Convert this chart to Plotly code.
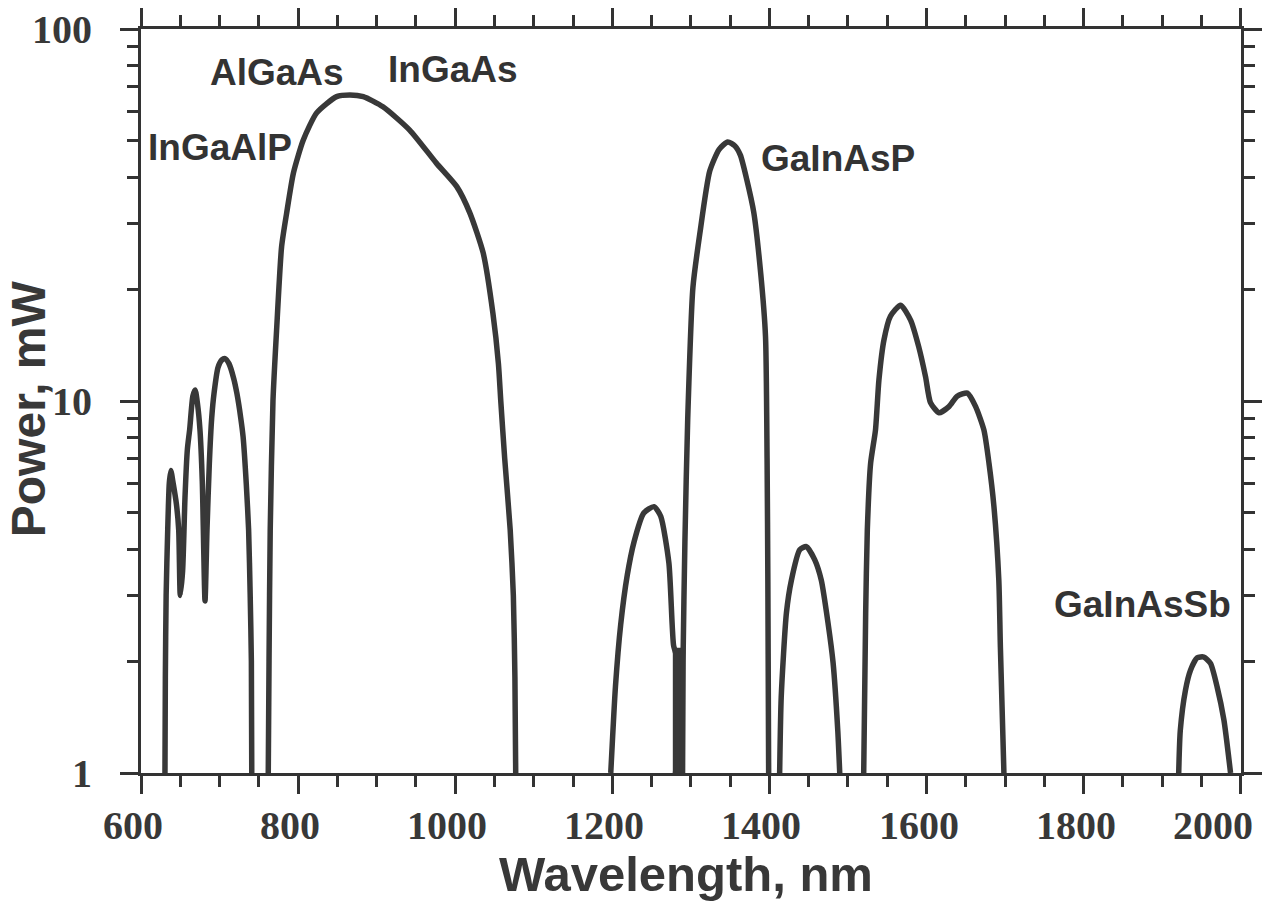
import plotly.graph_objects as go
import math

# ---- data (wavelength nm, power mW) ----
wl_red = [630.5, 631, 632, 634, 636, 638, 641, 645, 648, 650, 653, 656, 659, 662, 666, 669,
          672, 675, 678, 681.5, 684, 687, 690, 693, 698, 703, 707, 712, 718, 722, 727, 730,
          734, 737, 739, 740.5, 741]
p_red = [1.0, 1.8, 3.0, 4.5, 6.0, 6.5, 6.0, 5.3, 4.5, 3.0, 3.5, 5.5, 7.4, 8.4, 10.3, 10.7,
         9.8, 8.4, 6.1, 2.9, 4.5, 6.8, 9.0, 10.5, 12.3, 12.9, 13.0, 12.6, 11.5, 10.5, 9.0, 8.0,
         6.0, 4.5, 3.0, 2.0, 1.0]

wl_nir = [762, 763, 764.5, 768, 772.6, 779, 785.4, 794, 806.6, 823.6, 849, 866, 883, 908, 942,
          976, 1002, 1018.7, 1035.6, 1048, 1055, 1058, 1063, 1070, 1074, 1076, 1077]
p_nir = [1.0, 2.0, 4.5, 10, 15.5, 26, 32, 41, 50.3, 59.5, 65.8, 66.5, 65.8, 61.8, 53.5,
         43.6, 37.7, 32, 25, 17.2, 12.6, 10, 7, 4.5, 3, 1.8, 1.0]

wl_1250 = [1198, 1204, 1210.6, 1219, 1227.6, 1240, 1253, 1261.6, 1272, 1278, 1282, 1283.5, 1284]
p_1250 = [1.0, 1.71, 2.5, 3.4, 4.18, 5.0, 5.2, 4.9, 3.67, 2.2, 2.05, 1.5, 1.0]

wl_dip = [1277, 1291, 1291, 1277]
p_dip = [1.0, 1.0, 2.15, 2.15]

wl_1350 = [1289, 1290, 1292.4, 1296, 1302.6, 1311.5, 1324, 1336, 1347, 1356, 1363, 1371, 1380,
           1389, 1395, 1397, 1398, 1399]
p_1350 = [1.0, 2.0, 4.18, 9.0, 20.2, 28.3, 41.5, 47.5, 49.7, 48.5, 45.8, 39.5, 32.2,
          21.9, 14.9, 7.0, 3.24, 1.0]

wl_1450 = [1413, 1415, 1421.6, 1428, 1438.6, 1447, 1457.7, 1466, 1474.6, 1481, 1487, 1489.5]
p_1450 = [1.0, 1.6, 2.69, 3.3, 3.98, 4.06, 3.74, 3.3, 2.53, 1.98, 1.3, 1.0]

wl_1600 = [1520, 1522.5, 1524.6, 1528.8, 1535, 1539.4, 1545.8, 1554, 1567, 1579.7, 1590,
           1598.8, 1605, 1615.8, 1628.5, 1639, 1652, 1662.5, 1673, 1679.5, 1685.8, 1692,
           1694, 1698.5]
p_1600 = [1.0, 2.69, 4.5, 6.8, 8.36, 11.4, 14.6, 16.9, 18.1, 16.5, 14.0,
          11.6, 9.9, 9.3, 9.66, 10.3, 10.5, 9.66, 8.36, 6.8, 5.2, 3.3,
          2.18, 1.0]

wl_sb = [1921, 1923, 1929.6, 1936, 1944.5, 1953, 1961.5, 1970, 1978.5, 1987]
p_sb = [1.0, 1.3, 1.67, 1.89, 2.04, 2.05, 1.97, 1.7, 1.39, 1.0]

labels = ["AlGaAs", "InGaAs", "InGaAlP", "GaInAsP", "GaInAsSb"]
label_wl = [773, 997, 700.5, 1487, 1875]
label_p = [76.5, 77.6, 47.9, 45.0, 2.83]

x_ticks = [600, 800, 1000, 1200, 1400, 1600, 1800, 2000]
y_ticks = [1, 10, 100]
y_ticktext = ["1\u00a0\u00a0", "10\u00a0\u00a0", "100\u00a0\u00a0"]

LINE = "#383838"
AX = "#333333"

segments = [(wl_red, p_red), (wl_nir, p_nir), (wl_1250, p_1250), (wl_1350, p_1350),
            (wl_1450, p_1450), (wl_1600, p_1600), (wl_sb, p_sb)]

fig = go.Figure()
fig.add_trace(go.Scatter(x=wl_dip, y=p_dip, mode="lines", fill="toself", fillcolor=LINE,
                         line=dict(color=LINE, width=3), showlegend=False))
for wl, p in segments:
    fig.add_trace(go.Scatter(x=wl, y=p, mode="lines", showlegend=False,
                             line=dict(color=LINE, width=5.5, shape="spline", smoothing=0.6)))

for t, lw, lp in zip(labels, label_wl, label_p):
    fig.add_annotation(x=lw, y=math.log10(lp), text=t, showarrow=False,
                       font=dict(family="Liberation Sans, Arial", size=37, color="#333333",
                                 weight="bold"),
                       xanchor="center", yanchor="middle")

tickfont = dict(family="Liberation Serif, Times New Roman", size=40, color="#383838", weight="bold")

# x tick labels (written as annotations so the last one can sit inside the page)
for v in x_ticks:
    fig.add_annotation(x=v, xref="x", yref="paper", y=-0.071, text=str(v), showarrow=False,
                       xanchor="center", yanchor="middle", xshift=(-28 if v == x_ticks[-1] else -8),
                       font=tickfont)

fig.update_xaxes(range=[600, 2000.3], tickvals=x_ticks, showticklabels=False,
                 ticks="outside", ticklen=18, tickwidth=3, tickcolor=AX, automargin=False,
                 showline=True, linewidth=3, linecolor=AX, mirror="allticks",
                 showgrid=False, zeroline=False,
                 minor=dict(dtick=50, ticks="outside", ticklen=11, tickwidth=2.5,
                            tickcolor=AX, showgrid=False))
fig.update_yaxes(type="log", range=[0, 2], tickvals=y_ticks,
                 ticktext=y_ticktext, automargin=False,
                 ticks="outside", ticklen=18, tickwidth=3, tickcolor=AX,
                 showline=True, linewidth=3, linecolor=AX, mirror="allticks",
                 showgrid=False, zeroline=False, tickfont=tickfont,
                 minor=dict(tickvals=[2, 3, 4, 5, 6, 7, 8, 9, 20, 30, 40, 50, 60, 70, 80, 90],
                            ticks="outside", ticklen=11, tickwidth=2.5, tickcolor=AX,
                            showgrid=False))

fig.add_annotation(xref="paper", yref="paper", x=0.495, y=-0.175, text="Wavelength, nm",
                   showarrow=False, xanchor="center", yanchor="bottom",
                   font=dict(family="Liberation Sans, Arial", size=49, color="#383838",
                             weight="bold"))
fig.add_annotation(xref="paper", yref="paper", x=-0.102, y=0.49, text="Power, mW",
                   showarrow=False, textangle=-90, xanchor="center", yanchor="middle",
                   font=dict(family="Liberation Sans, Arial", size=48, color="#383838",
                             weight="bold"))

fig.update_layout(width=1270, height=905, margin=dict(l=141, r=29, t=29, b=132, autoexpand=False),
                  plot_bgcolor="white", paper_bgcolor="white")

fig.write_html("out.html")
